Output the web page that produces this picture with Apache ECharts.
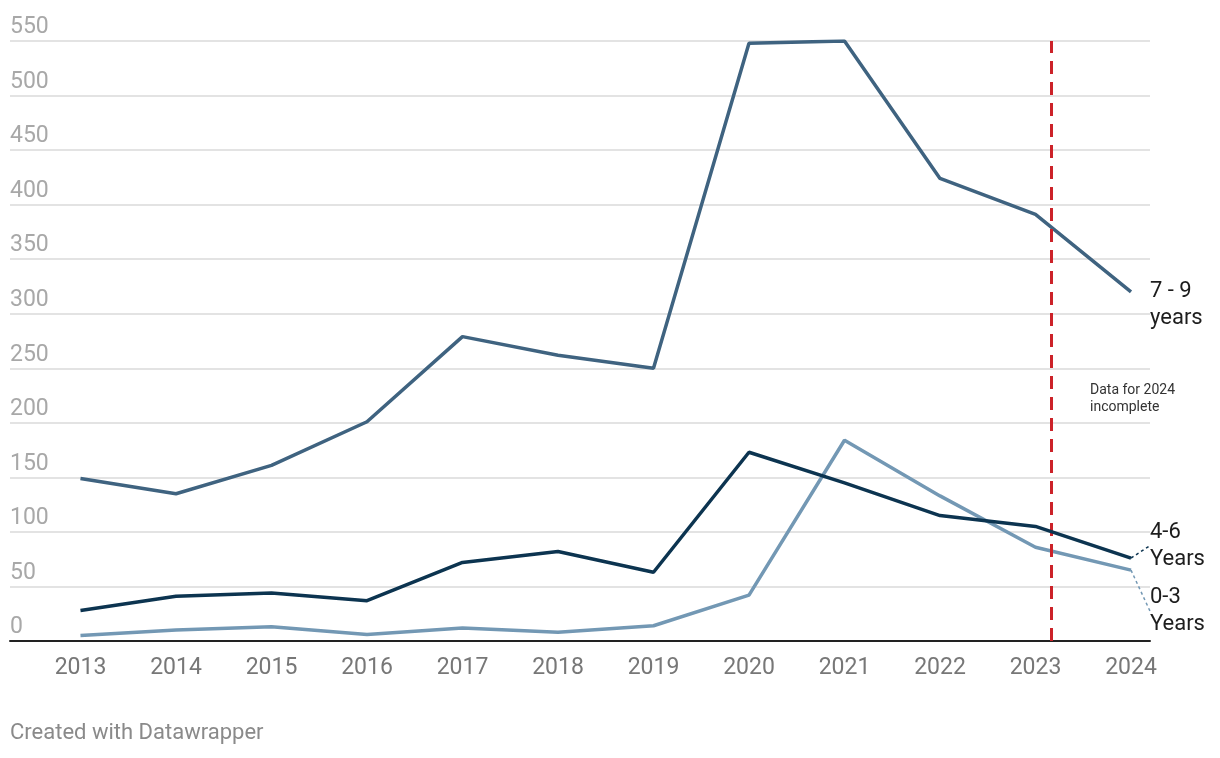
<!DOCTYPE html>
<html>
<head>
<meta charset="utf-8">
<script src="https://cdn.jsdelivr.net/npm/echarts@6/dist/echarts.min.js"></script>
<style>
html,body{margin:0;padding:0;background:#fff;}
#chart{width:1220px;height:758px;}
</style>
</head>
<body>
<div id="chart"></div>
<script>
const years = [2013,2014,2015,2016,2017,2018,2019,2020,2021,2022,2023,2024];
const yTicks = [0,50,100,150,200,250,300,350,400,450,500,550];
const s79 = [149,135,161,201,279,262,250,548,550,424,391,320];
const s46 = [28,41,44,37,72,82,63,173,145,115,105,76];
const s03 = [5,10,13,6,12,8,14,42,184,133,86,65];
const names = ['7 - 9\nyears','4-6\nYears','0-3\nYears'];
const incompleteAt = 2023.17;
const note = 'Data for 2024\nincomplete';
const credit = 'Created with Datawrapper';

const colors = ['#3f6380','#0c3450','#7398b4'];
const labelDy = [13.5, -12.5, 41];
const showGuide = [false, true, true];
const allSeries = [s79, s46, s03];

const chart = echarts.init(document.getElementById('chart'), null, {renderer:'canvas'});
const FONT = 'Roboto';

const series = allSeries.map((vals, si) => ({
  type: 'line',
  name: names[si],
  data: vals.map((v, i) => {
    const d = {value: [years[i], v]};
    if (i === vals.length - 1) {
      d.label = {
        show: true, position: 'right', distance: 19,
        formatter: names[si], color: '#1d1d1d', fontSize: 22,
        fontFamily: FONT, lineHeight: 27, align: 'left'
      };
      d.labelLine = {show: showGuide[si], lineStyle: {color: colors[si], width: 1.5, type: [3,3]}};
    }
    return d;
  }),
  labelLayout: function (p) {
    if (p.dataIndex === vals.length - 1) return {dy: labelDy[si]};
    return {};
  },
  labelLine: {show: showGuide[si], lineStyle: {color: colors[si], width: 1.5, type: [3,3]}},
  showSymbol: true,
  symbol: 'circle',
  symbolSize: 0.01,
  itemStyle: {color: colors[si]},
  lineStyle: {color: colors[si], width: 3.5},
  label: {show: false},
  emphasis: {disabled: true},
  z: si === 1 ? 5 : (si === 0 ? 3 : 2),
  animation: false,
  markLine: si === 0 ? {
    silent: true, symbol: 'none', animation: false,
    label: {show: false},
    lineStyle: {color: '#cc2229', width: 3, type: [13, 8]},
    data: [{xAxis: incompleteAt}]
  } : undefined
}));

chart.setOption({
  animation: false,
  backgroundColor: '#fff',
  grid: {left: 10, right: 70, top: 41, bottom: 117, containLabel: false},
  xAxis: {
    type: 'value', min: 2012.262, max: 2024.199,
    axisLine: {show: true, onZero: true, lineStyle: {color: '#222', width: 2}},
    axisTick: {show: false},
    splitLine: {show: false},
    axisLabel: {
      customValues: years, color: '#777', fontSize: 23, fontFamily: FONT,
      margin: 16, formatter: v => String(v)
    }
  },
  yAxis: {
    type: 'value', min: 0, max: 550, interval: 50,
    axisLine: {show: false}, axisTick: {show: false},
    splitLine: {show: true, lineStyle: {color: '#e3e3e3', width: 2}},
    axisLabel: {
      inside: true, margin: 0, color: '#a8a8a8', fontSize: 23, fontFamily: FONT,
      verticalAlign: 'bottom', padding: [0,0,2,0],
      customValues: yTicks, formatter: v => String(v)
    }
  },
  series: series,
  graphic: [
    {type: 'text', left: 1090, top: 382, style: {text: note, font: '14px Roboto', fill: '#333', lineHeight: 17}},
    {type: 'text', x: 10, y: 733, style: {text: credit, font: '22px Roboto', fill: '#8a8a8a', textVerticalAlign: 'middle'}}
  ]
});
</script>
</body>
</html>
